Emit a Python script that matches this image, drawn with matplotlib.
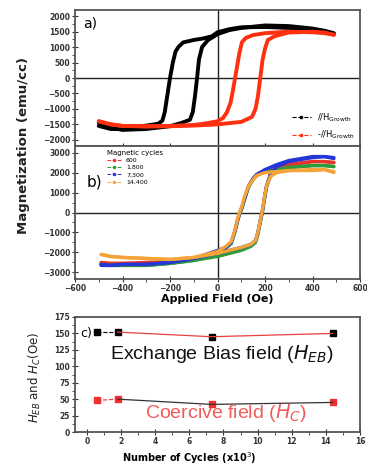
import numpy as np
import matplotlib.pyplot as plt
from matplotlib.ticker import MultipleLocator

# ---- panel a: hysteresis loops, two orientations ----
a_par_desc_H = [490, 450, 400, 300, 200, 100, 50, 0, -23, -60, -100, -145, -165, -177, -188, -200, -212, -222, -232, -250, -300, -400, -450, -500]
a_par_desc_M = [1420, 1500, 1560, 1620, 1650, 1640, 1580, 1480, 1350, 1280, 1230, 1150, 1000, 850, 500, 0, -600, -1100, -1380, -1480, -1540, -1650, -1650, -1550]
a_par_asc_H = [-500, -450, -400, -300, -200, -150, -116, -104, -95, -86, -78, -65, -40, -20, 0, 50, 100, 200, 300, 400, 450, 490]
a_par_asc_M = [-1450, -1600, -1680, -1650, -1560, -1450, -1350, -1100, -600, 0, 600, 1000, 1230, 1320, 1420, 1550, 1620, 1700, 1680, 1600, 1530, 1450]

a_perp_desc_H = [490, 450, 400, 300, 200, 150, 120, 103, 92, 83, 74, 65, 55, 40, 24, 0, -50, -100, -200, -300, -400, -450, -500]
a_perp_desc_M = [1400, 1450, 1480, 1500, 1450, 1390, 1300, 1160, 800, 400, 0, -400, -800, -1100, -1290, -1400, -1470, -1520, -1550, -1560, -1550, -1500, -1400]
a_perp_asc_H = [-500, -450, -400, -300, -200, -100, 0, 50, 100, 145, 160, 170, 180, 190, 200, 212, 240, 263, 300, 400, 450, 490]
a_perp_asc_M = [-1400, -1500, -1550, -1570, -1560, -1540, -1500, -1460, -1420, -1260, -1000, -600, 0, 600, 950, 1230, 1350, 1400, 1470, 1500, 1470, 1400]

# ---- panel b: loops after magnetic cycling ----
b_desc_H = [490, 450, 400, 300, 250, 200, 165, 150, 130, 114, 104, 94, 84, 74, 58, 35, 0, -100, -200, -300, -400, -450, -490]
b_asc_H = [-490, -450, -400, -300, -200, -100, 0, 50, 100, 140, 160, 170, 180, 188, 196, 206, 222, 250, 300, 400, 450, 490]
cycle_labels = ["600", "1,800", "7,300", "14,400"]
b_desc_M = {
    "600": [2500, 2550, 2550, 2400, 2250, 2100, 1900, 1700, 1300, 700, 300, 0, -400, -900, -1500, -1750, -2000, -2300, -2450, -2550, -2550, -2550, -2500],
    "1,800": [2300, 2350, 2350, 2250, 2150, 2050, 1850, 1650, 1250, 650, 250, -50, -450, -950, -1550, -1800, -2100, -2400, -2550, -2650, -2650, -2650, -2600],
    "7,300": [2700, 2800, 2800, 2600, 2400, 2150, 1900, 1700, 1300, 700, 300, 0, -400, -900, -1500, -1750, -1900, -2300, -2500, -2600, -2600, -2650, -2600],
    "14,400": [2000, 2150, 2100, 2100, 2050, 2000, 1850, 1650, 1300, 800, 350, 50, -350, -850, -1450, -1700, -1950, -2250, -2350, -2300, -2250, -2200, -2100],
}
b_asc_M = {
    "600": [-2550, -2550, -2550, -2500, -2450, -2300, -2100, -1950, -1800, -1650, -1450, -1050, -450, 0, 600, 1300, 1850, 2200, 2400, 2550, 2550, 2500],
    "1,800": [-2600, -2650, -2650, -2650, -2550, -2400, -2200, -2050, -1900, -1700, -1500, -1100, -500, -50, 550, 1250, 1800, 2100, 2250, 2350, 2350, 2300],
    "7,300": [-2650, -2650, -2600, -2600, -2500, -2300, -2050, -1900, -1750, -1600, -1400, -1000, -400, 0, 600, 1300, 1900, 2300, 2550, 2750, 2800, 2750],
    "14,400": [-2100, -2200, -2250, -2300, -2350, -2250, -2050, -1900, -1750, -1600, -1400, -1000, -400, 50, 650, 1300, 1800, 2000, 2100, 2150, 2150, 2050],
}
b_colors = {"600": "#e8332a", "1,800": "#2e9a3a", "7,300": "#2536d6", "14,400": "#f5a43a"}

# ---- panel c: exchange bias and coercive field vs cycles ----
cycles = [0.6, 1.8, 7.3, 14.4]
H_EB = [152, 152, 145, 150]
H_C = [48, 50, 42, 45]

fig = plt.figure(figsize=(3.67, 4.66), dpi=100)
L, W = 75 / 367, 285 / 367
ax_a = fig.add_axes([L, 1 - 146 / 466, W, 136 / 466])
ax_b = fig.add_axes([L, 1 - 279 / 466, W, 133 / 466])
ax_c = fig.add_axes([L, 1 - 432 / 466, W, 115 / 466])

red_a = "#ff3010"
ax_a.plot(a_par_desc_H, a_par_desc_M, color="black", lw=2.8, solid_capstyle="round")
ax_a.plot(a_par_asc_H, a_par_asc_M, color="black", lw=2.8, solid_capstyle="round")
ax_a.plot(a_perp_desc_H, a_perp_desc_M, color=red_a, lw=2.8, solid_capstyle="round")
ax_a.plot(a_perp_asc_H, a_perp_asc_M, color=red_a, lw=2.8, solid_capstyle="round")
ax_a.plot([], [], color="black", ls="--", lw=0.8, marker="s", ms=2, label=r"//H$_{\mathrm{Growth}}$")
ax_a.plot([], [], color=red_a, ls="--", lw=0.8, marker="s", ms=2, label=r"-//H$_{\mathrm{Growth}}$")
ax_a.set_ylim(-2200, 2200)
ax_a.yaxis.set_major_locator(MultipleLocator(500))
ax_a.legend(loc="lower right", frameon=False, fontsize=6, handlelength=2.2,
            borderaxespad=0.2, labelspacing=0.6)
ax_a.text(0.03, 0.9, "a)", transform=ax_a.transAxes, fontsize=10, va="center")

for lab in cycle_labels:
    ax_b.plot(b_desc_H, b_desc_M[lab], color=b_colors[lab], lw=2.4, solid_capstyle="round")
    ax_b.plot(b_asc_H, b_asc_M[lab], color=b_colors[lab], lw=2.4, solid_capstyle="round")
    ax_b.plot([], [], color=b_colors[lab], ls="--", lw=0.7, marker="o", ms=1.5, label=lab)
ax_b.set_ylim(-3330, 3330)
ax_b.yaxis.set_major_locator(MultipleLocator(1000))
leg = ax_b.legend(loc="upper left", bbox_to_anchor=(0.1, 1.0), frameon=False, fontsize=4.5,
                  title="Magnetic cycles", title_fontsize=5, handlelength=2.2,
                  labelspacing=0.3, borderaxespad=0.2)
leg._legend_box.align = "left"
ax_b.text(0.04, 0.73, "b)", transform=ax_b.transAxes, fontsize=11, va="center")
ax_b.set_xlabel("Applied Field (Oe)", fontsize=8, fontweight="bold", labelpad=1)

for ax in (ax_a, ax_b):
    ax.set_xlim(-600, 600)
    ax.axhline(0, color="#222", lw=1.0, zorder=0)
    ax.axvline(0, color="#222", lw=1.0, zorder=0)
    ax.xaxis.set_major_locator(MultipleLocator(200))
    ax.xaxis.set_minor_locator(MultipleLocator(100))
ax_a.tick_params(axis="x", labelbottom=False)

ax_c.plot(cycles, H_EB, ls="none", marker="s", color="black", ms=4)
ax_c.plot(cycles[:2], H_EB[:2], ls="--", color="black", lw=0.8)
ax_c.plot(cycles[1:], H_EB[1:], color="#e84040", lw=0.9)
ax_c.plot(cycles, H_C, ls="none", marker="s", color="#f03030", ms=4)
ax_c.plot(cycles[:2], H_C[:2], ls="--", color="#f03030", lw=0.8)
ax_c.plot(cycles[1:], H_C[1:], color="#333", lw=0.9)
ax_c.set_xlim(-0.7, 16)
ax_c.set_ylim(0, 175)
ax_c.xaxis.set_major_locator(MultipleLocator(2))
ax_c.xaxis.set_minor_locator(MultipleLocator(1))
ax_c.yaxis.set_major_locator(MultipleLocator(25))
ax_c.text(1.35, 118, r"Exchange Bias field ($H_{EB}$)", fontsize=14, va="center",
          color="#111", family="Liberation Sans")
ax_c.text(3.4, 29, r"Coercive field ($H_C$)", fontsize=14, va="center",
          color="#f25a5a", family="Liberation Sans")
ax_c.text(0.02, 0.86, "c)", transform=ax_c.transAxes, fontsize=9, va="center")
ax_c.set_xlabel(r"Number of Cycles (x10$^3$)", fontsize=7, fontweight="bold", labelpad=1)
ax_c.xaxis.set_label_coords(0.40, -0.16)

for ax, minor_step in ((ax_a, 250), (ax_b, 500), (ax_c, 12.5)):
    for s in ax.spines.values():
        s.set_color("#555")
        s.set_linewidth(1.3)
    ax.yaxis.set_minor_locator(MultipleLocator(minor_step))
    ax.tick_params(which="major", direction="inout", length=4, width=0.8, labelsize=5.5,
                   colors="#333", pad=1.5)
    ax.tick_params(which="minor", direction="out", length=2, width=0.6, colors="#333")
    for t in ax.get_xticklabels() + ax.get_yticklabels():
        t.set_fontweight("bold")

fig.text(24 / 367, 1 - 146 / 466, "Magnetization (emu/cc)", rotation=90, fontsize=9.5,
         fontweight="bold", ha="center", va="center", color="#222")
fig.text(35 / 367, 1 - 377 / 466, r"$H_{EB}$ and $H_C$(Oe)", rotation=90, fontsize=8.5,
         ha="center", va="center", color="#222")

fig.savefig("out.png", dpi=100)
